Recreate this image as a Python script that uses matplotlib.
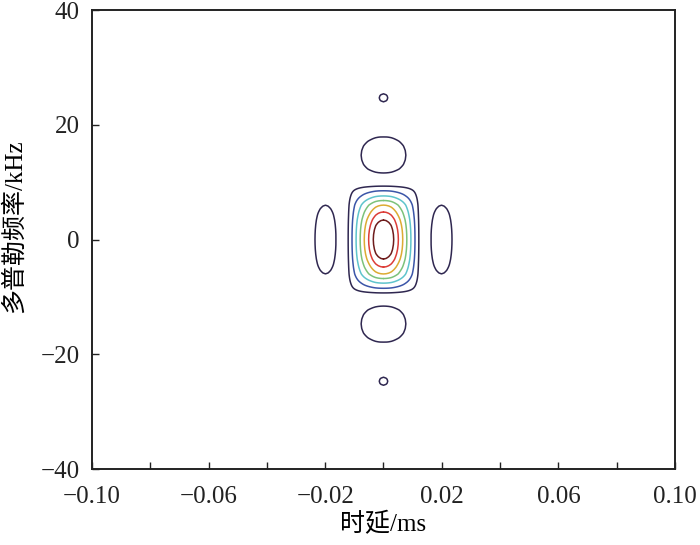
import matplotlib
matplotlib.use('Agg')
import matplotlib.pyplot as plt
import numpy as np

delay_ms = [0.0, 0.0009, 0.0018, 0.0027, 0.0035, 0.0051, 0.0066, 0.0080, 0.0094,
            0.0108, 0.0121, 0.0142,
            0.0163, 0.0172, 0.0181, 0.0190, 0.0199, 0.0208, 0.0217, 0.0226, 0.0235,
            0.0256, 0.1]
delay_amp = [1.0, 0.992, 0.969, 0.93, 0.875, 0.75, 0.625, 0.5, 0.375,
             0.25, 0.125, 0.0,
             0.125, 0.137, 0.145, 0.150, 0.152, 0.150, 0.145, 0.137, 0.125,
             0.0, 0.0]

# Doppler cut through the ambiguity surface
doppler_khz = [0.0, 0.85, 1.7, 2.55, 3.4, 4.8, 6.0, 6.8, 7.6, 8.5, 9.3, 10.5,
               11.6, 12.3, 13.1, 13.9, 14.7, 15.5, 16.3, 17.1, 17.9, 19.2,
               22.8, 24.0, 24.35, 24.7, 25.05, 25.4, 26.6, 40.0]
doppler_amp = [1.0, 0.992, 0.969, 0.93, 0.875, 0.75, 0.625, 0.5, 0.375, 0.25, 0.125, 0.0,
               0.125, 0.142, 0.155, 0.163, 0.166, 0.163, 0.155, 0.142, 0.125, 0.0,
               0.0, 0.125, 0.12575, 0.126, 0.12575, 0.125, 0.0, 0.0]

levels = [0.125, 0.25, 0.375, 0.5, 0.625, 0.75, 0.875]
level_colors = ['#2f2750', '#3b55a8', '#5ec4cc', '#7cc27a', '#dcab33', '#dc3d38', '#6e1c1c']

x_major = [-0.1, -0.06, -0.02, 0.02, 0.06, 0.1]
x_minor = [-0.08, -0.04, 0.0, 0.04, 0.08]
y_major = [-40, -20, 0, 20, 40]

# surface on a grid
tau = np.linspace(-0.1, 0.1, 1201)
fd = np.linspace(-40, 40, 1201)
T, FD = np.meshgrid(tau, fd)
g = np.clip(np.interp(np.abs(T), delay_ms, delay_amp), 1e-6, 1)
h = np.clip(np.interp(np.abs(FD), doppler_khz, doppler_amp), 1e-6, 1)
k = 0.5
Z = (g ** -k + h ** -k - 1) ** (-1 / k)

plt.rcParams['font.family'] = ['Liberation Serif', 'Noto Sans CJK SC']
plt.rcParams['axes.unicode_minus'] = True

fig = plt.figure(figsize=(7, 5.45), dpi=100)
ax = fig.add_axes([0.1314, 0.1394, 0.8329, 0.8422])

ax.contour(T, FD, Z, levels=levels, colors=level_colors, linewidths=1.1)

ax.set_xlim(-0.1, 0.1)
ax.set_ylim(-40, 40)
ax.set_xticks(x_major)
ax.set_xticklabels(['%.2f' % v if v >= 0 else '\u2212%.2f' % -v for v in x_major])
ax.set_xticks(x_minor, minor=True)
ax.set_yticks(y_major)
ax.set_yticklabels([str(v) if v >= 0 else '\u2212%d' % -v for v in y_major])

ax.tick_params(axis='both', which='both', direction='in', length=5, width=1,
               labelsize=18, colors='#222222')
ax.tick_params(axis='x', which='both', pad=12)
ax.tick_params(axis='y', which='both', pad=9)
for s in ax.spines.values():
    s.set_linewidth(1.4)
    s.set_color('#222222')

ax.set_xlabel('时延/ms', fontsize=18)
ax.set_ylabel('多普勒频率/kHz', fontsize=18)
ax.xaxis.set_label_coords(0.5, -0.094)
ax.yaxis.set_label_coords(-0.113, 0.53)

fig.savefig('out.png', dpi=100)
